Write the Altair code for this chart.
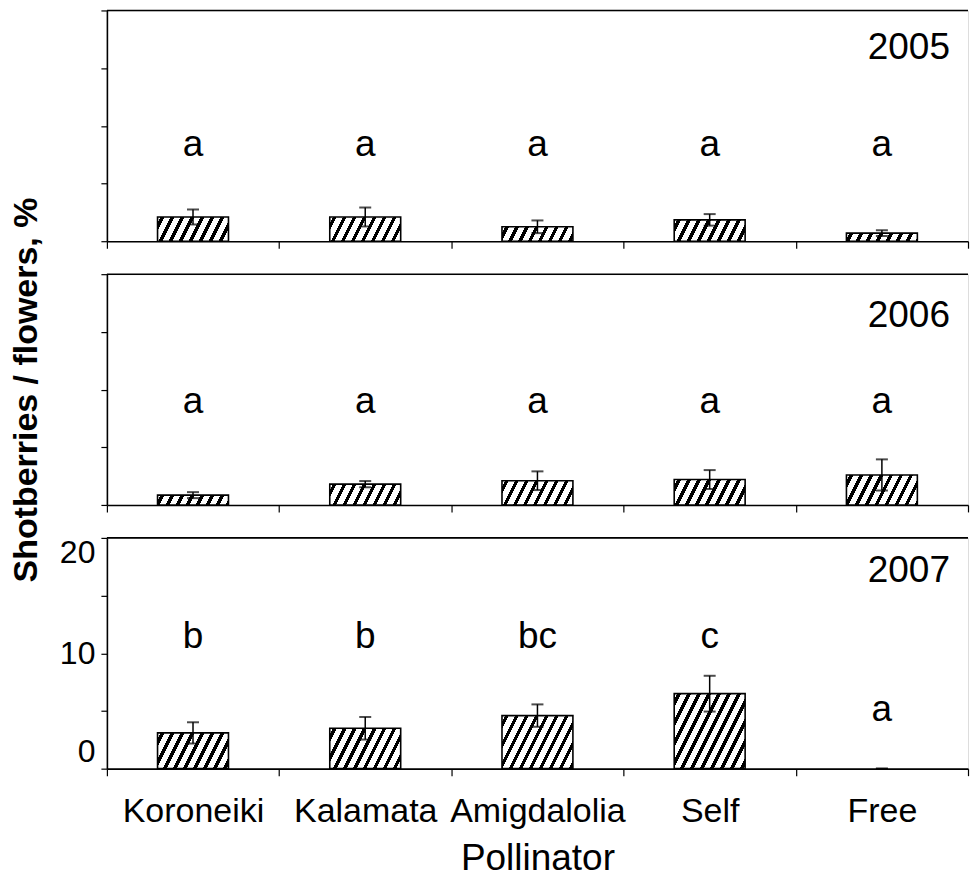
import altair as alt

# ---------------- data ----------------
pollinators = ["Koroneiki", "Kalamata", "Amigdalolia", "Self", "Free"]
years = ["2005", "2006", "2007"]

mean_2005 = [2.1, 2.1, 1.25, 1.85, 0.7]
se_2005 = [0.65, 0.82, 0.55, 0.5, 0.25]
mean_2006 = [0.85, 1.8, 2.1, 2.2, 2.6]
se_2006 = [0.26, 0.27, 0.81, 0.82, 1.35]
mean_2007 = [3.1, 3.5, 4.6, 6.5, 0.0]
se_2007 = [0.92, 0.98, 0.97, 1.55, 0.0]

letters_2005 = ["a", "a", "a", "a", "a"]
letters_2006 = ["a", "a", "a", "a", "a"]
letters_2007 = ["b", "b", "bc", "c", "a"]
letter_y_2005 = [7.4, 7.4, 7.4, 7.4, 7.4]
letter_y_2006 = [8.0, 8.0, 8.0, 8.0, 8.0]
letter_y_2007 = [10.5, 10.5, 10.5, 10.5, 4.1]
year_label_y = [15.8, 15.4, 16.2]

y_ticks = [0, 5, 10, 15, 20]

means = [mean_2005, mean_2006, mean_2007]
ses = [se_2005, se_2006, se_2007]
letters = [letters_2005, letters_2006, letters_2007]
letter_ys = [letter_y_2005, letter_y_2006, letter_y_2007]

# ---------------- style ----------------
FONT = "Liberation Sans"
PLOT_W = 862
PLOT_H = 231
Y_MAX = 20
BAR_W = 71
HATCH_K = 2.0        # steepness of the hatch lines
HATCH_PERIOD = 10.0  # horizontal distance between hatch lines (px)
HATCH_FRAC = 0.38    # share of each period that is black


def hatch_fill(value):
    """Diagonal hatching as a linear gradient in the bar's bounding box."""
    h = value / Y_MAX * PLOT_H
    w = BAR_W
    k = HATCH_K
    if h <= 0:
        return {"gradient": "linear", "x1": 0, "y1": 0, "x2": 1, "y2": 0,
                "stops": [{"offset": 0, "color": "white"}, {"offset": 1, "color": "white"}]}
    span = k * w + h
    norm = (k * w) ** 2 + h ** 2
    x2 = span * k * w / norm
    y2 = span * h / norm
    T = k * HATCH_PERIOD / span
    stops = [{"offset": 0, "color": "white"}]
    i = 0
    while True:
        a = i * T + 0.5 * T * (1 - HATCH_FRAC)
        if a >= 1:
            break
        b = min(a + HATCH_FRAC * T, 1)
        stops += [{"offset": a, "color": "white"}, {"offset": a, "color": "black"},
                  {"offset": b, "color": "black"}, {"offset": b, "color": "white"}]
        i += 1
    stops.append({"offset": 1, "color": "white"})
    return {"gradient": "linear", "x1": 0, "y1": 0, "x2": x2, "y2": y2, "stops": stops}


def panel(idx):
    rows = []
    for j, p in enumerate(pollinators):
        m = means[idx][j]
        s = ses[idx][j]
        rows.append({"pollinator": p, "mean": m, "lo": m - s, "hi": m + s,
                     "letter": letters[idx][j], "ly": letter_ys[idx][j],
                     "grad": hatch_fill(m)})
    data = alt.Data(values=rows)
    bottom = idx == 2

    x_axis = alt.Axis(
        tickBand="extent", labelAngle=0, labels=bottom,
        title="Pollinator" if bottom else None,
        labelFontSize=34, labelPadding=19, labelFont=FONT, labelColor="black",
        titleFontSize=37, titleFontWeight="normal", titleFont=FONT, titleColor="black",
        titlePadding=12, tickSize=7, tickColor="black", tickWidth=1.2,
        domainColor="black", domainWidth=1.6, grid=False,
    )
    x = alt.X("pollinator:N", sort=pollinators,
              scale=alt.Scale(paddingInner=0, paddingOuter=0), axis=x_axis)

    y_axis = alt.Axis(
        values=y_ticks, labelExpr="datum.value % 10 == 0 ? datum.label : ''",
        labelFlush=True, labelFontSize=32, labelFont=FONT, labelColor="black",
        labels=bottom, labelPadding=6,
        title="Shotberries / flowers, %" if idx == 1 else None,
        titleFontSize=34, titleFontWeight="bold",
        titleFont=FONT, titleColor="black",
        titlePadding=57, tickSize=6, tickColor="black", tickWidth=1.2,
        domainColor="black", domainWidth=1.6, grid=False,
    )
    yscale = alt.Scale(domain=[0, Y_MAX], nice=False, zero=True)

    base = alt.Chart(data)
    bars = base.mark_bar(size=BAR_W, stroke="black", strokeWidth=1.6).encode(
        x=x,
        y=alt.Y("mean:Q", scale=yscale, axis=y_axis, stack=None),
        fill=alt.Fill("grad:N", scale=None),
        strokeOpacity=alt.condition("datum.mean > 0", alt.value(1), alt.value(0)),
    )
    err = base.mark_rule(color="black", strokeWidth=1.5).encode(
        x=x, y=alt.Y("lo:Q", scale=yscale, axis=y_axis), y2="hi:Q")
    cap_hi = base.mark_tick(color="black", size=12, thickness=2).encode(
        x=x, y=alt.Y("hi:Q", scale=yscale, axis=y_axis))
    cap_lo = base.mark_tick(color="black", size=12, thickness=2).encode(
        x=x, y=alt.Y("lo:Q", scale=yscale, axis=y_axis))
    txt = base.mark_text(font=FONT, fontSize=37, baseline="alphabetic",
                         align="center", color="black").encode(
        x=x, y=alt.Y("ly:Q", scale=yscale, axis=y_axis), text="letter:N")
    year = alt.Chart(alt.Data(values=[{"pollinator": pollinators[-1],
                                       "yy": year_label_y[idx],
                                       "year": years[idx]}])).mark_text(
        font=FONT, fontSize=37, baseline="alphabetic", align="center",
        dx=27, color="black").encode(
        x=x, y=alt.Y("yy:Q", scale=yscale, axis=y_axis), text="year:N")
    top = alt.Chart(alt.Data(values=[{"v": 1}])).mark_rule(
        color="black", strokeWidth=1.6).encode(y=alt.value(0))

    return alt.layer(bars, err, cap_hi, cap_lo, txt, year, top).properties(
        width=PLOT_W, height=PLOT_H)


chart = alt.vconcat(panel(0), panel(1), panel(2), spacing=33, bounds="flush").properties(
    padding=0
).configure_view(stroke=None).configure(font=FONT)

chart.save("out.html", embed_options={"renderer": "svg", "actions": False})
